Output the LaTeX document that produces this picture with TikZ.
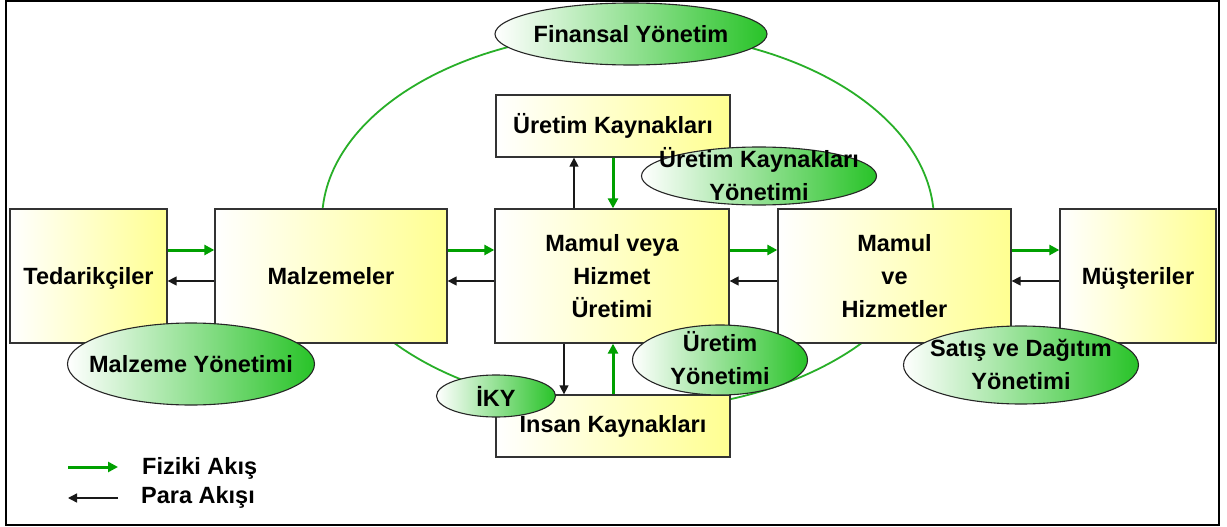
\documentclass[tikz,border=0pt]{standalone}
\usepackage{fontspec}
\setmainfont{Liberation Sans}
\usetikzlibrary{shapes.geometric,arrows.meta}
\definecolor{boxyellow}{RGB}{255,255,145}
\definecolor{mgreen}{RGB}{40,195,40}
\definecolor{flowgreen}{RGB}{0,160,0}
\definecolor{ringgreen}{RGB}{40,175,40}
\begin{document}
\begin{tikzpicture}[x=1pt,y=-1pt,
  font=\fontsize{23.5}{33}\selectfont\bfseries,
  box/.style={draw=black!80, line width=1.3pt, left color=white, right color=boxyellow,
    inner sep=0pt, align=center, text=black},
  mgmt/.style={ellipse, draw=black!85, line width=1.1pt, left color=white, right color=mgreen,
    inner sep=0pt},
  lbl/.style={align=center, inner sep=0pt, text=black},
  garrow/.style={draw=flowgreen, line width=3pt, -{Triangle[length=10pt,width=10pt]}},
  karrow/.style={draw=black!90, line width=1.4pt, -{Triangle[length=9pt,width=9pt]}},
  ring/.style={draw=ringgreen, line width=1.8pt}]

\useasboundingbox (0,0) rectangle (1227,527);
\fill[white] (0,0) rectangle (1227,527);
\draw[line width=2pt] (6,1) rectangle (1219,525);

% management ring behind all blocks
\draw[ring] (628,221) ellipse [x radius=306pt, y radius=189pt];

% flow blocks
\node[box, minimum width=157, minimum height=134, text depth=0pt] (ted) at (88.5,276) {Tedarikçiler};
\node[box, minimum width=232, minimum height=134] (malz) at (331,276) {Malzemeler};
\node[box, minimum width=234, minimum height=134] (uret) at (612,276) {Mamul veya\\Hizmet\\Üretimi};
\node[box, minimum width=233, minimum height=134] (mamul) at (894.5,276) {Mamul\\ve\\Hizmetler};
\node[box, minimum width=156, minimum height=134, text depth=0pt] (mus) at (1138,276) {Müşteriler};
\node[box, minimum width=234, minimum height=62] (uk) at (613,126) {Üretim Kaynakları};
\node[box, minimum width=234, minimum height=62] (ik) at (613,426) {Insan Kaynakları};

% physical flow (green) and money flow (black)
\draw[garrow] ([yshift=26pt]ted.east) -- ([yshift=26pt]malz.west);
\draw[karrow] ([yshift=-5pt]malz.west) -- ([yshift=-5pt]ted.east);
\draw[garrow] ([yshift=26pt]malz.east) -- ([yshift=26pt]uret.west);
\draw[karrow] ([yshift=-5pt]uret.west) -- ([yshift=-5pt]malz.east);
\draw[garrow] ([yshift=26pt]uret.east) -- ([yshift=26pt]mamul.west);
\draw[karrow] ([yshift=-5pt]mamul.west) -- ([yshift=-5pt]uret.east);
\draw[garrow] ([yshift=26pt]mamul.east) -- ([yshift=26pt]mus.west);
\draw[karrow] ([yshift=-5pt]mus.west) -- ([yshift=-5pt]mamul.east);

\draw[karrow] (uret.north -| 574,0) -- (uk.south -| 574,0);
\draw[garrow] (uk.south -| 613,0) -- (uret.north -| 613,0);
\draw[karrow] (uret.south -| 564,0) -- (ik.north -| 564,0);
\draw[garrow] (ik.north -| 613,0) -- (uret.south -| 613,0);

% management functions
\node[mgmt, minimum width=272, minimum height=62] (fin) at (631,34) {};
\node[lbl] at (fin.center) {Finansal Yönetim};
\node[mgmt, minimum width=235, minimum height=58] (ukm) at (759,176) {};
\node[lbl] at ([yshift=2pt]ukm.center) {Üretim Kaynakları\\Yönetimi};
\node[mgmt, minimum width=247, minimum height=82] (mym) at (191,364) {};
\node[lbl] at (mym.center) {Malzeme Yönetimi};
\node[mgmt, minimum width=119, minimum height=42] (iky) at (496,396) {};
\node[lbl] at (iky.center) {İKY};
\node[mgmt, minimum width=175, minimum height=70] (uym) at (720,360) {};
\node[lbl] at ([yshift=2pt]uym.center) {Üretim\\Yönetimi};
\node[mgmt, minimum width=235, minimum height=78] (sdy) at (1021,365) {};
\node[lbl] at ([yshift=1pt]sdy.center) {Satış ve Dağıtım\\Yönetimi};

% legend
\coordinate (lg1a) at (68,467);
\coordinate (lg1b) at (118,467);
\coordinate (lg2a) at (118,498);
\coordinate (lg2b) at (68,498);
\draw[garrow] (lg1a) -- (lg1b);
\draw[karrow] (lg2a) -- (lg2b);
\node[lbl, anchor=west] (lgt1) at (142,468) {Fiziki Akış};
\node[lbl, anchor=west] (lgt2) at (141,497) {Para Akışı};
\end{tikzpicture}
\end{document}
